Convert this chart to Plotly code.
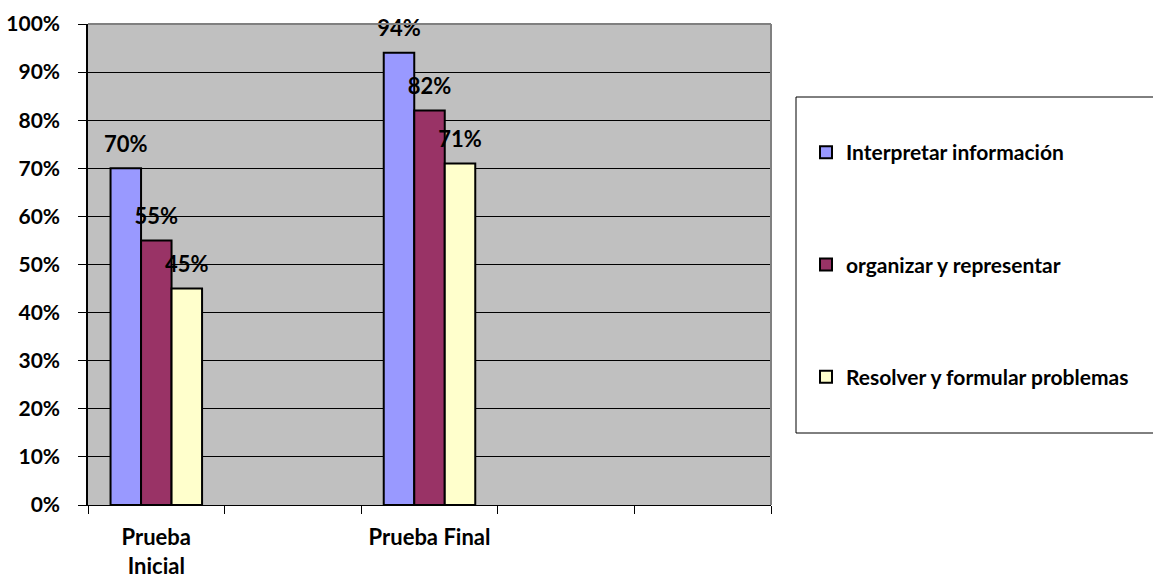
import plotly.graph_objects as go

# Category slots along the x axis (empty slots keep the Excel-style spacing)
categories = ["Prueba<br>Inicial", " ", "Prueba Final", "  ", "   "]
series_names = ["Interpretar información", "organizar y representar", "Resolver y formular problemas"]
interpretar = [0.70, None, 0.94, None, None]
organizar = [0.55, None, 0.82, None, None]
resolver = [0.45, None, 0.71, None, None]
series_values = [interpretar, organizar, resolver]
colors = ["#9999FF", "#993366", "#FFFFCC"]
y_ticks = [0.0, 0.1, 0.2, 0.3, 0.4, 0.5, 0.6, 0.7, 0.8, 0.9, 1.0]

W, H = 1153, 578
L, R, T, B = 88, 771, 24, 505  # plot area in pixels


def px_x(p):
    return (p - L) / (R - L)


def px_y(p):
    return (B - p) / (B - T)


FONT = "Lato"

fig = go.Figure()
for i, (name, vals, col) in enumerate(zip(series_names, series_values, colors)):
    fig.add_trace(go.Bar(
        x=categories, y=vals, name=name, legendgroup=f"g{i}",
        marker=dict(color=col, line=dict(color="black", width=2)),
        # big value text on the first line, a small transparent spacer line underneath
        texttemplate=("<span style='font-size:22px'>%{y:.0%}</span>"
                      "<br><span style='color:rgba(0,0,0,0)'>.</span>"),
        textposition="outside",
        constraintext="none", cliponaxis=False,
        textfont=dict(family=FONT, size=9, color="black", weight="bold"),
        hoverinfo="skip",
    ))

fig.update_layout(
    width=W, height=H,
    margin=dict(l=L, r=W - R, t=T, b=H - B, pad=0, autoexpand=False),
    paper_bgcolor="white", plot_bgcolor="#C0C0C0",
    barmode="group", bargap=0.33, bargroupgap=0,
    font=dict(family=FONT, color="black"),
    showlegend=True,
    legend=dict(
        x=px_x(806), y=px_y(132), xanchor="left", yanchor="top",
        bgcolor="rgba(0,0,0,0)", borderwidth=0,
        tracegroupgap=82,
        font=dict(family=FONT, size=21, color="black", weight="bold"),
    ),
    xaxis=dict(
        type="category", categoryorder="array", categoryarray=categories,
        range=[-0.5, 4.5], tickson="boundaries", automargin=False,
        ticks="outside", ticklen=8, tickcolor="black", tickwidth=1,
        showline=True, linecolor="black", linewidth=1,
        showgrid=False, ticklabelstandoff=13,
        tickfont=dict(family=FONT, size=22, color="black", weight="bold"),
    ),
    yaxis=dict(
        range=[0, 1], tickvals=y_ticks, tickformat=".0%", automargin=False,
        ticks="outside", ticklen=8, tickcolor="black", tickwidth=1,
        showline=True, linecolor="black", linewidth=1.5,
        showgrid=True, gridcolor="black", gridwidth=1, zeroline=False,
        ticklabelstandoff=14,
        tickfont=dict(family=FONT, size=21, color="black", weight="bold"),
    ),
    shapes=[
        # gray top and right border of the plot area
        dict(type="line", xref="paper", yref="paper", x0=0, x1=1, y0=1, y1=1,
             line=dict(color="#808080", width=2)),
        dict(type="line", xref="paper", yref="paper", x0=1, x1=1, y0=0, y1=1,
             line=dict(color="#808080", width=2)),
        # legend frame
        dict(type="rect", xref="paper", yref="paper",
             x0=px_x(796), x1=px_x(1170), y0=px_y(433), y1=px_y(97),
             line=dict(color="black", width=1)),
    ],
)

fig.write_html("out.html")
